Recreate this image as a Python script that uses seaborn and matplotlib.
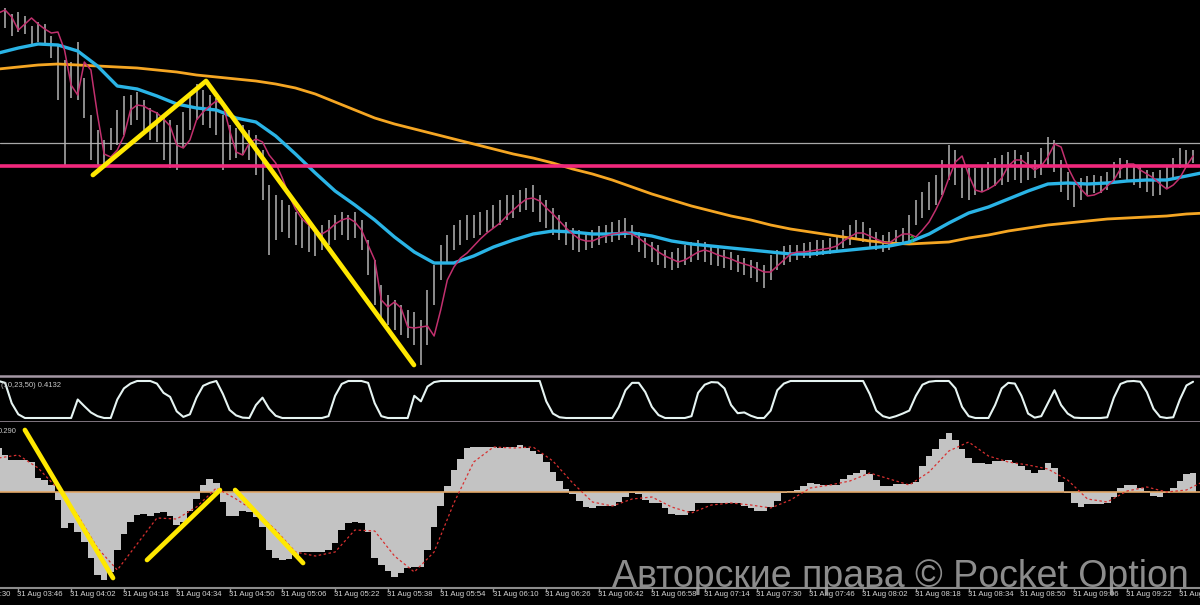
import numpy as np
import matplotlib
matplotlib.use("Agg")
import matplotlib.pyplot as plt
import matplotlib.transforms as mtransforms
import seaborn as sns

# ---------------- data ----------------
# time axis: minutes after 31 Aug 03:30
bar_start_min = 10
bar_step_min = 2
ma_step_min = 6

bar_high = [
    388, 392, 386, 388, 384, 374, 378, 376, 364, 355,
    340, 338, 358, 322, 285, 270, 260, 272, 290, 304,
    305, 308, 300, 292, 288, 282, 280, 275, 288, 305,
    316, 310, 305, 302, 285, 275, 272, 275, 270, 265,
    250, 215, 205, 200, 195, 188, 182, 178, 172, 175,
    180, 185, 188, 185, 188, 180, 160, 140, 115, 105,
    100, 95, 90, 88, 80, 110, 135, 155, 165, 175,
    180, 185, 185, 188, 190, 195, 200, 205, 205, 210,
    212, 215, 205, 200, 192, 185, 178, 172, 170, 168,
    170, 174, 175, 178, 180, 182, 175, 168, 162, 158,
    155, 150, 148, 152, 155, 158, 160, 158, 155, 152,
    150, 148, 145, 142, 140, 138, 135, 145, 150, 154,
    155, 155, 157, 158, 160, 160, 162, 165, 170, 175,
    180, 178, 172, 168, 165, 168, 170, 172, 185, 200,
    208, 218, 225, 240, 255, 250, 235, 232, 232, 235,
    238, 242, 245, 248, 250, 245, 248, 240, 252, 263,
    260, 240, 228, 218, 222, 224, 225, 224, 228, 238,
    242, 240, 235, 233, 230, 228, 230, 235, 242, 252,
    250, 250]
bar_low = [
    370, 372, 364, 368, 366, 356, 358, 356, 342, 300,
    235, 302, 300, 282, 240, 235, 232, 250, 255, 265,
    275, 280, 270, 260, 258, 240, 232, 230, 252, 270,
    280, 275, 272, 265, 230, 240, 242, 245, 240, 225,
    200, 145, 160, 168, 162, 155, 152, 148, 144, 150,
    155, 160, 165, 160, 162, 150, 125, 95, 80, 75,
    70, 65, 62, 55, 35, 55, 95, 120, 138, 150,
    155, 160, 162, 165, 168, 172, 175, 180, 182, 188,
    190, 188, 178, 172, 165, 160, 155, 150, 148, 150,
    152, 155, 157, 158, 160, 162, 155, 148, 142, 138,
    135, 132, 130, 132, 135, 138, 140, 138, 135, 134,
    132, 130, 128, 125, 122, 118, 112, 120, 130, 135,
    138, 140, 142, 142, 144, 145, 146, 148, 152, 155,
    160, 158, 152, 150, 148, 150, 154, 156, 158, 175,
    182, 190, 195, 205, 220, 215, 202, 200, 205, 208,
    210, 214, 215, 218, 220, 217, 220, 222, 225, 235,
    228, 208, 200, 193, 200, 205, 207, 207, 210, 218,
    222, 220, 215, 212, 208, 204, 205, 212, 220, 232,
    235, 237]
fast_ma = [
    387, 390, 383, 370, 376, 382, 376, 371, 367, 368,
    350, 315, 305, 338, 330, 285, 246, 243, 250, 264,
    290, 295, 294, 290, 287, 281, 274, 255, 252, 260,
    280, 288, 294, 299, 296, 270, 248, 245, 257, 261,
    258, 245, 237, 222, 205, 191, 181, 175, 168, 166,
    170, 176, 180, 182, 178, 170, 155, 140, 100, 93,
    98, 92, 73, 72, 73, 74, 64, 90, 120, 133,
    142, 147, 154, 161, 167, 172, 177, 184, 190, 196,
    201, 202, 199, 192, 186, 179, 172, 166, 161, 159,
    159, 162, 164, 166, 167, 168, 166, 162, 157, 153,
    148, 144, 141, 138, 140, 144, 148, 150, 148, 145,
    143, 141, 138, 136, 134, 131, 128, 128, 134, 140,
    146, 148, 148, 149, 150, 151, 152, 154, 159, 163,
    167, 167, 164, 161, 158, 157, 162, 166, 166, 163,
    170, 178, 190, 204, 222, 238, 244, 225, 210, 208,
    211, 215, 222, 234, 240, 240, 235, 230, 234, 243,
    256, 253, 233, 220, 211, 204, 205, 208, 214, 220,
    231, 236, 236, 230, 226, 222, 216, 211, 215, 222,
    234, 244]
mid_ma = [
    347, 352, 356, 355, 349, 334, 314, 311, 304, 296,
    292, 290, 282, 278, 264, 246, 227, 209, 195, 180,
    163, 148, 137, 137, 144, 153, 160, 166, 169, 168,
    166, 166, 167, 164, 159, 156, 154, 152, 150, 148,
    146, 146, 148, 150, 152, 154, 158, 166, 177, 187,
    193, 201, 209, 216, 217, 216, 217, 219, 220, 220,
    224, 228]
slow_ma = [
    331, 333, 335, 336, 335, 334, 333, 332, 330, 328,
    325, 323, 321, 319, 316, 312, 306, 298, 290, 282,
    276, 271, 266, 261, 256, 251, 246, 242, 237, 231,
    226, 220, 213, 206, 200, 194, 189, 184, 180, 175,
    171, 168, 165, 162, 159, 157, 156, 157, 158, 162,
    165, 169, 172, 175, 177, 179, 181, 182, 183, 184,
    186, 187]
support_level = 234
resistance_level = 257
pattern_t = [38.6, 72.9, 135.9]
pattern_p = [225, 319, 35]
arrow_t, arrow_p = 286.8, 160

osc_values = [
    1.0, 0.95, 0.4, 0.1, 0.0, 0.0, 0.0, 0.0, 0.0, 0.0,
    0.0, 0.0, 0.5, 0.32, 0.15, 0.05, 0.0, 0.0, 0.5, 0.8,
    0.93, 1.0, 1.0, 1.0, 0.93, 0.68, 0.57, 0.18, 0.03, 0.1,
    0.55, 0.87, 0.95, 1.0, 0.65, 0.22, 0.07, 0.01, 0.0, 0.35,
    0.55, 0.25, 0.06, 0.0, 0.0, 0.0, 0.0, 0.0, 0.0, 0.0,
    0.05, 0.6, 0.92, 1.0, 1.0, 1.0, 0.95, 0.4, 0.05, 0.0,
    0.0, 0.0, 0.0, 0.6, 0.45, 0.85, 0.97, 1.0, 1.0, 1.0,
    1.0, 1.0, 1.0, 1.0, 1.0, 1.0, 1.0, 1.0, 1.0, 1.0,
    1.0, 1.0, 1.0, 0.45, 0.12, 0.02, 0.0, 0.0, 0.0, 0.0,
    0.0, 0.0, 0.0, 0.0, 0.3, 0.75, 0.95, 0.95, 0.7, 0.3,
    0.08, 0.0, 0.0, 0.0, 0.0, 0.05, 0.68, 0.9, 0.97, 0.96,
    0.8, 0.35, 0.13, 0.15, 0.06, 0.0, 0.0, 0.2, 0.75, 0.93,
    1.0, 1.0, 1.0, 1.0, 1.0, 1.0, 1.0, 1.0, 1.0, 1.0,
    1.0, 1.0, 0.65, 0.2, 0.05, 0.0, 0.05, 0.12, 0.2, 0.6,
    0.9, 0.98, 1.0, 1.0, 1.0, 0.8, 0.3, 0.05, 0.0, 0.0,
    0.0, 0.35, 0.8, 0.95, 0.93, 0.6, 0.12, 0.01, 0.05, 0.4,
    0.75, 0.35, 0.12, 0.01, 0.0, 0.0, 0.0, 0.0, 0.02, 0.55,
    0.92, 0.99, 1.0, 0.98, 0.7, 0.25, 0.03, 0.0, 0.02, 0.5,
    0.88, 0.98]
osc_label = "(10,23,50) 0.4132"

macd_hist = [
    44, 37, 32, 32, 32, 30, 14, 12, 7, -8,
    -36, -31, -40, -50, -66, -83, -88, -80, -58, -42,
    -30, -23, -22, -24, -21, -20, -24, -33, -30, -19,
    -7, 7, 13, 9, -10, -24, -24, -19, -20, -25,
    -35, -58, -66, -68, -67, -63, -60, -60, -60, -60,
    -58, -51, -38, -31, -30, -31, -40, -66, -73, -79,
    -85, -81, -76, -75, -75, -58, -35, -14, 6, 22,
    33, 44, 45, 45, 45, 45, 44, 45, 45, 47,
    44, 41, 38, 30, 20, 11, 3, -2, -9, -15,
    -16, -14, -14, -14, -10, -5, -1, -2, -8, -11,
    -11, -16, -22, -23, -23, -19, -11, -11, -11, -11,
    -11, -11, -11, -14, -16, -19, -19, -15, -9, -1,
    1, 2, 6, 9, 8, 7, 7, 7, 13, 17,
    19, 22, 18, 12, 6, 6, 8, 8, 8, 10,
    26, 36, 43, 53, 59, 52, 43, 34, 29, 29,
    28, 31, 31, 32, 29, 26, 22, 19, 22, 29,
    24, 10, -1, -11, -15, -12, -12, -12, -11, -5,
    4, 7, 7, 4, 1, -4, -5, -1, 4, 11,
    18, 19]
macd_signal = [
    34, 37, 24, 3, -23, -56, -78, -52, -26, -27,
    -15, 4, -7, -20, -38, -60, -64, -60, -38, -39,
    -64, -80, -60, -11, 30, 45, 44, 45, 31, 9,
    -10, -14, -7, -5, -15, -21, -13, -11, -13, -16,
    -8, 4, 7, 11, 19, 13, 7, 20, 41, 50,
    36, 30, 27, 23, 12, -7, -10, 1, 5, 0,
    2, 12]
macd_label = "0.290"
macd_marks = [
    ([18.0, 44.7], [62, -86]),
    ([55.0, 77.1], [-68, 2]),
    ([81.7, 102.3], [2, -71]),
]

tick_minutes = [0, 16, 32, 48, 64, 80, 96, 112, 128, 144, 160, 176,
                192, 208, 224, 240, 256, 272, 288, 304, 320, 336, 352, 368]
tick_labels = ["31 Aug 03:30", "31 Aug 03:46", "31 Aug 04:02", "31 Aug 04:18",
               "31 Aug 04:34", "31 Aug 04:50", "31 Aug 05:06", "31 Aug 05:22",
               "31 Aug 05:38", "31 Aug 05:54", "31 Aug 06:10", "31 Aug 06:26",
               "31 Aug 06:42", "31 Aug 06:58", "31 Aug 07:14", "31 Aug 07:30",
               "31 Aug 07:46", "31 Aug 08:02", "31 Aug 08:18", "31 Aug 08:34",
               "31 Aug 08:50", "31 Aug 09:06", "31 Aug 09:22", "31 Aug 09:38"]
watermark = "Авторские права © Pocket Option"

# ---------------- styling ----------------
sns.set_theme(style="dark")
plt.rcParams['font.family'] = ['Liberation Sans', 'DejaVu Sans']

W, H = 1200, 605
fig = plt.figure(figsize=(12, 6.05), dpi=100, facecolor='black')


def rect(top_px, bottom_px):
    return [0, 1 - bottom_px / H, 1, (bottom_px - top_px) / H]


ax1 = fig.add_axes(rect(0, 375))
ax2 = fig.add_axes(rect(376, 422))
ax3 = fig.add_axes(rect(422, 588))

XL = (10.45, 374.1)
for ax in (ax1, ax2, ax3):
    ax.set_facecolor('black')
    ax.grid(False)
    ax.set_xlim(*XL)
    for s in ax.spines.values():
        s.set_visible(False)
    ax.tick_params(left=False, labelleft=False, bottom=False, labelbottom=False)

t_bars = bar_start_min + bar_step_min * np.arange(len(bar_high))
t_ma = bar_start_min + ma_step_min * np.arange(len(mid_ma))
t_sig = bar_start_min + ma_step_min * np.arange(len(macd_signal))

# ---- main panel ----
ax1.set_ylim(25, 400)
ax1.axhline(resistance_level, color='#a8a8a8', lw=0.9, zorder=1)
ax1.vlines(t_bars, bar_low, bar_high, colors='#b4b4b4', linewidth=1.1, zorder=2)
sns.lineplot(x=t_ma, y=slow_ma, ax=ax1, color='#f5a623', linewidth=2.0, legend=False, zorder=3)
sns.lineplot(x=t_ma, y=mid_ma, ax=ax1, color='#2ab4e6', linewidth=2.4, legend=False, zorder=4)
sns.lineplot(x=t_bars, y=fast_ma, ax=ax1, color='#c2306e', linewidth=1.1, legend=False, zorder=5)
ax1.axhline(support_level, color='#f0287c', lw=2.6, zorder=6)
ax1.plot(pattern_t, pattern_p, color='#ffe800', lw=3.4, zorder=7, solid_capstyle='round')
ax1.text(arrow_t, arrow_p, "↑", color='#22cc33', fontsize=7, ha='center', va='center',
         family='DejaVu Sans', zorder=8)
ax1.set_xlabel(''); ax1.set_ylabel('')

# ---- oscillator panel ----
ax2.set_ylim(-0.108, 1.135)
sns.lineplot(x=t_bars, y=osc_values, ax=ax2, color='#e6f4f2', linewidth=1.5, legend=False)
for side in ('top', 'bottom'):
    ax2.spines[side].set_visible(True)
    ax2.spines[side].set_color('#a497a4')
    ax2.spines[side].set_linewidth(1.8)
ax2.text(0.001, 0.80, osc_label, transform=ax2.transAxes, color='#c8c8c8',
         fontsize=5.5, ha='left', va='center')
ax2.set_xlabel(''); ax2.set_ylabel('')

# ---- MACD panel ----
ax3.set_ylim(-96, 70)
ax3.bar(t_bars, macd_hist, width=bar_step_min, color='#c3c3c3', linewidth=0, zorder=2)
ax3.axhline(0, color='#e2a868', lw=1.2, zorder=3)
sns.lineplot(x=t_sig, y=macd_signal, ax=ax3, color='#d83030', linewidth=0.9,
             linestyle=(0, (2, 2)), legend=False, zorder=4)
for xs, ys in macd_marks:
    ax3.plot(xs, ys, color='#ffe800', lw=3.4, zorder=5, solid_capstyle='round')
ax3.text(-0.002, 0.945, macd_label, transform=ax3.transAxes, color='#c8c8c8',
         fontsize=5.5, ha='left', va='center')
ax3.spines['bottom'].set_visible(True)
ax3.spines['bottom'].set_color('#8c8c8c')
ax3.spines['bottom'].set_linewidth(1.5)
ax3.set_xticks([m for m in tick_minutes if XL[0] < m < XL[1]])
ax3.tick_params(bottom=True, direction='out', length=3, width=1, color='#8c8c8c',
                labelbottom=False)
ax3.set_xlabel(''); ax3.set_ylabel('')

blend = mtransforms.blended_transform_factory(ax3.transData, fig.transFigure)
for m, lbl in zip(tick_minutes, tick_labels):
    ax3.text(m - 0.3, 1 - 595 / H, lbl, transform=blend, ha='left', va='center',
             fontsize=5.6, color='#d4d4d4', clip_on=False)

fig.text(612 / W, 1 - 587 / H, watermark, fontsize=27, color='#a6a6a6', alpha=0.85,
         ha='left', va='baseline', family=['Liberation Sans', 'DejaVu Sans'])

fig.savefig('out.png', dpi=100, facecolor='black')
